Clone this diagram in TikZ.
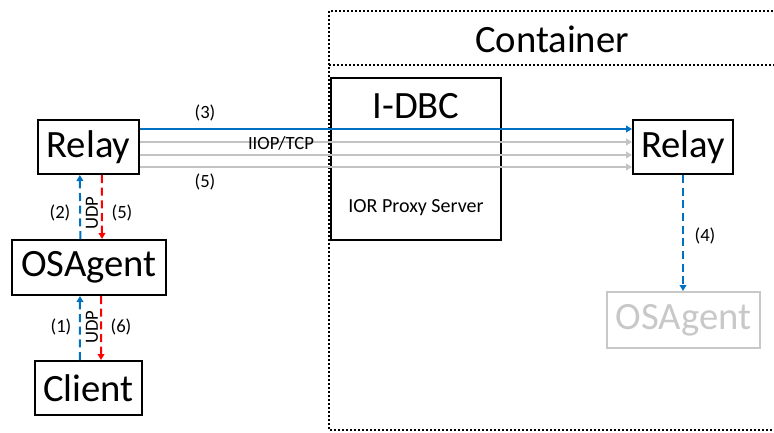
\documentclass[tikz,border=0pt]{standalone}
\usepackage{fontspec}
\setmainfont{Carlito}
\usepackage{xcolor}
\usepackage{tikz}
\usetikzlibrary{arrows.meta}

\definecolor{flowblue}{RGB}{0,112,192}
\definecolor{flowred}{RGB}{255,0,0}
\definecolor{flowgrey}{RGB}{195,195,195}
\definecolor{ghostgrey}{RGB}{200,200,200}

\begin{document}
\begin{tikzpicture}[x=0.75pt, y=-0.75pt,
    box/.style={draw, line width=1.5pt, rectangle, inner sep=0pt, font=\fontsize{29}{30}\selectfont},
    lbl/.style={inner sep=1pt, font=\fontsize{14}{16}\selectfont},
    tip/.style={-{Triangle[width=5pt, length=4.5pt]}},
    udpflow/.style={tip, line width=1.5pt, dash pattern=on 6pt off 3.5pt},
    tcpflow/.style={tip, line width=1.5pt}]

    \useasboundingbox (0,0) rectangle (774,432);
    \clip (0,0) rectangle (774,432);

    % Container frame
    \draw[line width=1.5pt, dash pattern=on 1.5pt off 1.5pt] (329,11) rectangle (800,430);
    \draw[line width=1.5pt, dash pattern=on 1.5pt off 1.5pt] (329,65) -- (800,65);
    \node (container) at (552,39) [font=\fontsize{29}{30}\selectfont] {Container};

    % Define nodes
    \node (relayL) at (88.5,147) [box, minimum width=75.75pt, minimum height=40.5pt] {Relay};
    \node (agentL) at (89,267.5) [box, minimum width=115.5pt, minimum height=41.25pt] {OSAgent};
    \node (client) at (88.5,388) [box, minimum width=80.25pt, minimum height=40.5pt] {Client};
    \node (idbc) at (416,159) [box, minimum width=127.5pt, minimum height=121.5pt] {};
    \node (idbcname) at (416,106) [font=\fontsize{29}{30}\selectfont] {I-DBC};
    \node (proxy) at (416,208) [font=\fontsize{15}{17}\selectfont] {IOR Proxy Server};
    \node (relayR) at (683,147) [box, minimum width=75pt, minimum height=40.5pt] {Relay};
    \node (agentR) at (683.5,320) [box, draw=ghostgrey, text=ghostgrey, minimum width=114.75pt, minimum height=42pt] {OSAgent};

    % Define connections
    \draw[tcpflow, flowblue] ([yshift=13.5pt]relayL.east) -- ([yshift=13.5pt]relayR.west);
    \draw[tcpflow, flowgrey] ([yshift=3.75pt]relayL.east) -- ([yshift=3.75pt]relayR.west);
    \draw[tcpflow, flowgrey] ([yshift=-6pt]relayL.east) -- ([yshift=-6pt]relayR.west);
    \draw[tcpflow, flowgrey] ([yshift=-15pt]relayL.east) -- ([yshift=-15pt]relayR.west);
    \node (n3) at (205,113) [lbl] {(3)};
    \node (iiop) at (281,143) [lbl] {IIOP/TCP};
    \node (n5a) at (205,182) [lbl] {(5)};

    \draw[udpflow, flowblue] ([xshift=-6.5pt]agentL.north) -- ([xshift=-6.5pt]relayL.south);
    \draw[udpflow, flowred] ([xshift=10pt]relayL.south) -- ([xshift=9.75pt]agentL.north);
    \node (n2) at (60,213) [lbl] {(2)};
    \node (udp1) at (92,213) [lbl, rotate=90] {UDP};
    \node (n5b) at (122,213) [lbl] {(5)};

    \draw[udpflow, flowblue] ([xshift=-6.5pt]client.north) -- ([xshift=-6.75pt]agentL.south);
    \draw[udpflow, flowred] ([xshift=9pt]agentL.south) -- ([xshift=9.4pt]client.north);
    \node (n1) at (61,327) [lbl] {(1)};
    \node (udp2) at (92,327) [lbl, rotate=90] {UDP};
    \node (n6) at (121,327) [lbl] {(6)};

    \draw[udpflow, flowblue] (relayR.south) -- (relayR.south |- agentR.north);
    \node (n4) at (705,236) [lbl] {(4)};

\end{tikzpicture}
\end{document}
